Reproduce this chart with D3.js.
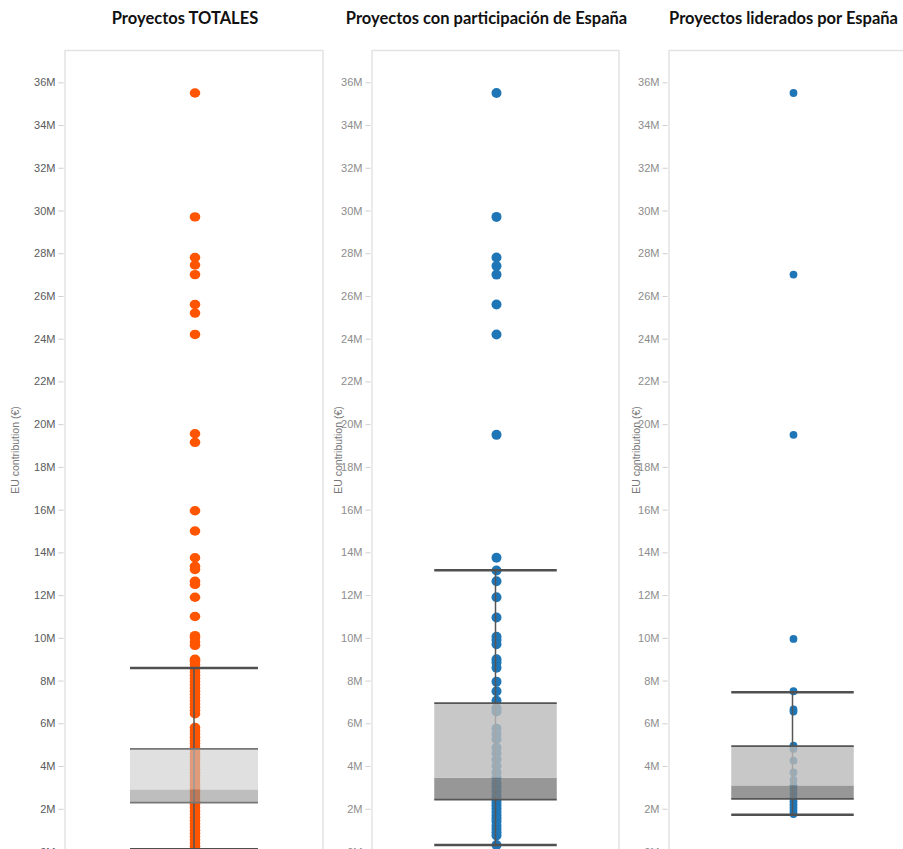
<!DOCTYPE html>
<html>
<head>
<meta charset="utf-8">
<script src="https://cdn.jsdelivr.net/npm/d3@7"></script>
<style>
  body { margin: 0; background: #fff; }
  .title { font-family: Lato, "Open Sans", sans-serif; font-weight: bold; font-size: 16.5px; fill: #111; }
  .tick-label { font-family: "Liberation Sans", Arial, sans-serif; font-size: 11px; }
  .axis-title { font-family: "Liberation Sans", Arial, sans-serif; font-size: 10.5px; fill: #777; }
</style>
</head>
<body>
<svg class="graphic"></svg>
<script>
// values in millions of euros
var totales = [35.5, 29.7, 27.8, 27.45, 27.0, 25.6, 25.2, 24.2, 19.55, 19.15, 15.95, 15.0,
  13.75, 13.35, 13.2, 12.65, 12.5, 11.9, 11.0, 10.1, 10.0, 9.8, 9.65, 9.0, 8.9, 8.75,
  8.55, 8.4, 8.25, 8.1, 7.95, 7.8, 7.65, 7.5, 7.35, 7.2, 7.05, 6.9, 6.75, 6.6, 6.45,
  5.8, 5.65, 5.5, 5.35, 5.2, 5.05, 4.9, 4.75, 4.6, 4.45, 4.3, 4.15, 4.0, 3.85, 3.7,
  3.55, 3.4, 3.25, 3.1, 2.95, 2.8, 2.65, 2.5, 2.35, 2.2, 2.05, 1.9, 1.75, 1.6, 1.45,
  1.3, 1.15, 1.0, 0.85, 0.7, 0.55, 0.4, 0.25, 0.1];

var participacion = [35.5, 29.7, 27.8, 27.4, 27.0, 25.6, 24.2, 19.5, 13.75, 13.15, 12.65,
  11.9, 10.95, 10.05, 9.9, 9.7, 9.0, 8.85, 8.6, 7.95, 7.5, 7.05, 6.7, 6.55, 5.75, 5.5,
  5.25, 4.85, 4.6, 4.3, 4.0, 3.7, 3.45, 3.2, 3.0, 2.8, 2.6, 2.45, 2.3, 2.15, 2.0, 1.85,
  1.7, 1.55, 1.4, 1.2, 1.05, 0.9, 0.75, 0.3];

var liderados = [35.5, 27.0, 19.5, 9.95, 7.5, 6.65, 6.55, 4.95, 4.8, 4.25, 3.7, 3.35,
  3.1, 2.9, 2.7, 2.5, 2.35, 2.2, 2.05, 1.9, 1.75];

// box plot stats: [lower whisker, Q1, median, Q3, upper whisker]
var statsTotales = [0.1, 2.29, 2.9, 4.8, 8.59];
var statsParticipacion = [0.3, 2.43, 3.45, 6.94, 13.16];
var statsLiderados = [1.72, 2.46, 3.09, 4.93, 7.45];

var titles = ["Proyectos TOTALES", "Proyectos con participación de España", "Proyectos liderados por España"];
var tickValues = d3.range(0, 37, 2);

var width = 903, height = 849;

var panels = [
  { values: totales, stats: statsTotales, left: 65, right: 323, color: "#ff5500",
    rx: 5.3, ry: 4.7, labelFill: "#5a5a5a", titleOffset: 50,
    boxUpper: "#cbcbcb", boxLower: "#939393", boxOpacity: 0.6 },
  { values: participacion, stats: statsParticipacion, left: 372, right: 619, color: "#1f76b6",
    rx: 5, ry: 5, labelFill: "#8c8c8c", titleOffset: 34,
    boxUpper: "#bababa", boxLower: "#7d7d7d", boxOpacity: 0.8 },
  { values: liderados, stats: statsLiderados, left: 669, right: 916, color: "#1f76b6",
    rx: 3.9, ry: 3.9, labelFill: "#8c8c8c", titleOffset: 33,
    boxUpper: "#bababa", boxLower: "#7d7d7d", boxOpacity: 0.8 }
];

var y = d3.scaleLinear()
    .domain([0, 36])
    .range([851.5, 82.3]);

var svg = d3.select(".graphic")
    .attr("width", width)
    .attr("height", height);

panels.forEach(function(p, i) {
    var g = svg.append("g");
    var cx = (p.left + p.right) / 2;
    var half = (p.right - p.left) * 0.248;

    // title
    g.append("text")
        .attr("class", "title")
        .attr("x", cx - 9)
        .attr("y", 24)
        .attr("text-anchor", "middle")
        .text(titles[i]);

    // frame
    g.append("rect")
        .attr("x", p.left)
        .attr("y", 50.5)
        .attr("width", p.right - p.left)
        .attr("height", 850)
        .attr("fill", "none")
        .attr("stroke", "#e3e3e3")
        .attr("stroke-width", 1.5);

    // y axis
    var axis = d3.axisLeft(y)
        .tickValues(tickValues)
        .tickSize(5)
        .tickPadding(3)
        .tickFormat(function(d) { return d + "M"; });

    var ax = g.append("g")
        .attr("transform", "translate(" + (p.left - 1.5) + ",0)")
        .call(axis);
    ax.select(".domain").remove();
    ax.selectAll(".tick line").attr("stroke", "#cfcfcf");
    ax.selectAll(".tick text")
        .attr("class", "tick-label")
        .attr("fill", p.labelFill)
        .attr("font-family", null)
        .attr("font-size", null);

    g.append("text")
        .attr("class", "axis-title")
        .attr("transform", "translate(" + (p.left - p.titleOffset + 4) + ",450) rotate(-90)")
        .attr("text-anchor", "middle")
        .text("EU contribution (€)");

    // points
    g.selectAll("ellipse")
        .data(p.values)
        .enter()
        .append("ellipse")
        .attr("cx", cx + 1)
        .attr("cy", function(d) { return y(d); })
        .attr("rx", p.rx)
        .attr("ry", p.ry)
        .attr("fill", p.color);

    var s = p.stats;

    // whisker
    g.append("line")
        .attr("x1", cx).attr("x2", cx)
        .attr("y1", y(s[0])).attr("y2", y(s[4]))
        .attr("stroke", "#555").attr("stroke-width", 1.5);

    [s[0], s[4]].forEach(function(v) {
        g.append("line")
            .attr("x1", cx - half).attr("x2", cx + half)
            .attr("y1", y(v)).attr("y2", y(v))
            .attr("stroke", "#505050").attr("stroke-width", 2.5);
    });

    // box: lower half (Q1 - median) darker, upper half (median - Q3) lighter
    g.append("rect")
        .attr("x", cx - half).attr("width", half * 2)
        .attr("y", y(s[2])).attr("height", y(s[1]) - y(s[2]))
        .attr("fill", p.boxLower).attr("fill-opacity", p.boxOpacity);
    g.append("rect")
        .attr("x", cx - half).attr("width", half * 2)
        .attr("y", y(s[3])).attr("height", y(s[2]) - y(s[3]))
        .attr("fill", p.boxUpper).attr("fill-opacity", p.boxOpacity);

    [s[1], s[3]].forEach(function(v) {
        g.append("line")
            .attr("x1", cx - half).attr("x2", cx + half)
            .attr("y1", y(v)).attr("y2", y(v))
            .attr("stroke", i === 0 ? "#777" : "#555").attr("stroke-width", 1.8);
    });
});
</script>
</body>
</html>
